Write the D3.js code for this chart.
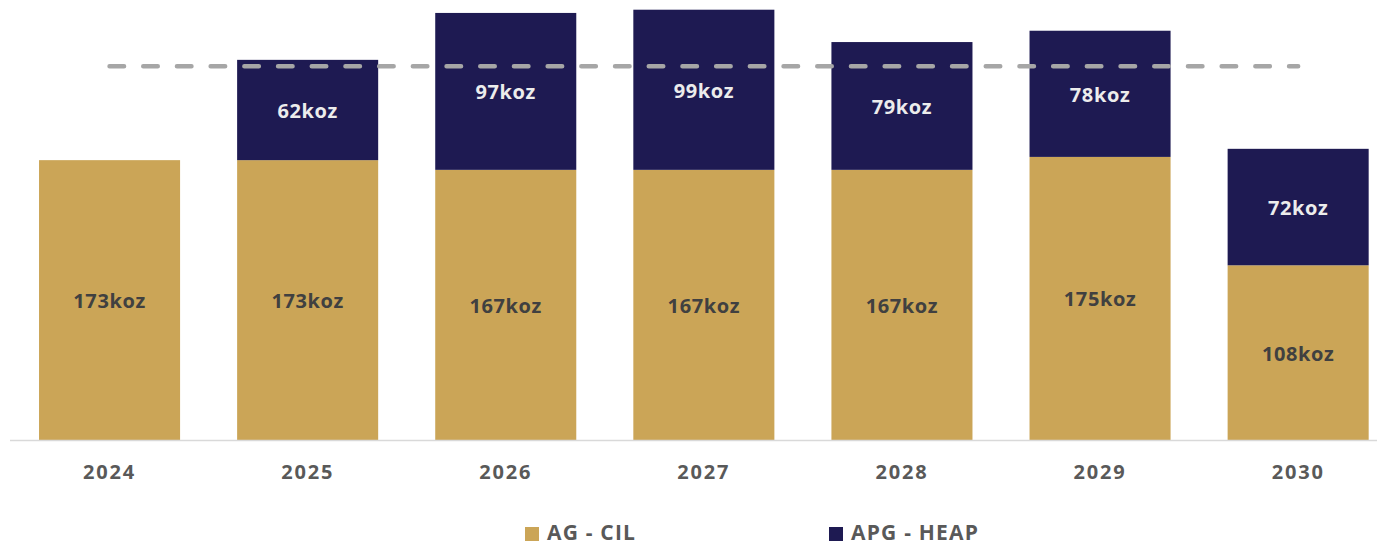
<!DOCTYPE html>
<html lang="en">
<head>
<meta charset="utf-8">
<title>Production by year</title>
<style>
body { margin: 0; background: #fff; }
svg { display: block; font-family: "Open Sans", sans-serif; font-weight: 700; }
.tick-label { fill: #595959; font-size: 20px; letter-spacing: 1.8px; }
.legend text { fill: #595959; font-size: 21px; letter-spacing: 1.2px; }
.seg-label { letter-spacing: 0.6px; }
</style>
</head>
<body>
<svg width="1377" height="545"></svg>
<script src="https://cdn.jsdelivr.net/npm/d3@7"></script>
<script>

const years = ['2024', '2025', '2026', '2027', '2028', '2029', '2030'];
const agCil = [173, 173, 167, 167, 167, 175, 108];
const apgHeap = [0, 62, 97, 99, 79, 78, 72];
const target = 231;
const seriesNames = ['AG - CIL', 'APG - HEAP'];
const seriesColors = ['#cba557', '#1e1a52'];

const svg = d3.select('svg');
const baseY = 440;

let x = d3.scaleBand()
  .domain(years)
  .range([10.5, 1397.2])
  .paddingInner(0.288)
  .paddingOuter(0.144);

// px per koz (~1.617)
let y = d3.scaleLinear().domain([0, 272]).range([baseY, 0]);

let rows = years.map((yr, i) => ({year: yr, ag: agCil[i], apg: apgHeap[i]}));
let stacked = d3.stack().keys(['ag', 'apg'])(rows);

let color = d3.scaleOrdinal().domain(['ag', 'apg']).range(seriesColors);

let groups = svg.append('g')
  .selectAll('g')
  .data(stacked)
  .enter().append('g')
    .attr('fill', d => color(d.key));

groups.selectAll('rect')
  .data(d => d.filter(s => s[1] - s[0] > 0))
  .enter().append('rect')
    .attr('x', d => x(d.data.year))
    .attr('y', d => y(d[1]))
    .attr('width', x.bandwidth())
    .attr('height', d => y(d[0]) - y(d[1]));

// segment labels, centred in each piece
stacked.forEach(layer => {
  svg.append('g')
    .selectAll('text')
    .data(layer.filter(s => s[1] - s[0] > 0))
    .enter().append('text')
      .attr('class', 'seg-label')
      .attr('x', d => x(d.data.year) + x.bandwidth() / 2)
      .attr('y', d => (y(d[0]) + y(d[1])) / 2 + 1)
      .attr('dy', '0.35em')
      .attr('text-anchor', 'middle')
      .attr('font-size', 20)
      .attr('fill', layer.key === 'apg' ? '#ececec' : '#404040')
      .text(d => (d[1] - d[0]) + 'koz');
});

// baseline
svg.append('line')
  .attr('x1', 10).attr('x2', 1377)
  .attr('y1', baseY + 0.5).attr('y2', baseY + 0.5)
  .attr('stroke', '#d9d9d9')
  .attr('stroke-width', 1.5);

// x labels
svg.append('g')
  .selectAll('text')
  .data(years)
  .enter().append('text')
    .attr('class', 'tick-label')
    .attr('x', d => x(d) + x.bandwidth() / 2)
    .attr('y', 472)
    .attr('dy', '0.35em')
    .attr('text-anchor', 'middle')
    .text(d => d);

// target dashed line
svg.append('line')
  .attr('x1', x(years[0]) + x.bandwidth() / 2)
  .attr('x2', x(years[years.length - 1]) + x.bandwidth() / 2)
  .attr('y1', y(target)).attr('y2', y(target))
  .attr('stroke', '#a6a6a6')
  .attr('stroke-width', 4.5)
  .attr('stroke-linecap', 'round')
  .attr('stroke-dasharray', '14.5,19.2');

// legend
let legendX = [525, 829];
let legend = svg.append('g')
  .attr('class', 'legend')
  .selectAll('g')
  .data(seriesNames)
  .enter().append('g')
    .attr('transform', (d, i) => 'translate(' + legendX[i] + ',533)');

legend.append('rect')
  .attr('x', 0)
  .attr('y', -6)
  .attr('width', 14)
  .attr('height', 14)
  .attr('fill', (d, i) => seriesColors[i]);

legend.append('text')
  .attr('x', 22)
  .attr('dy', '0.35em')
  .text(d => d);

</script>
</body>
</html>
